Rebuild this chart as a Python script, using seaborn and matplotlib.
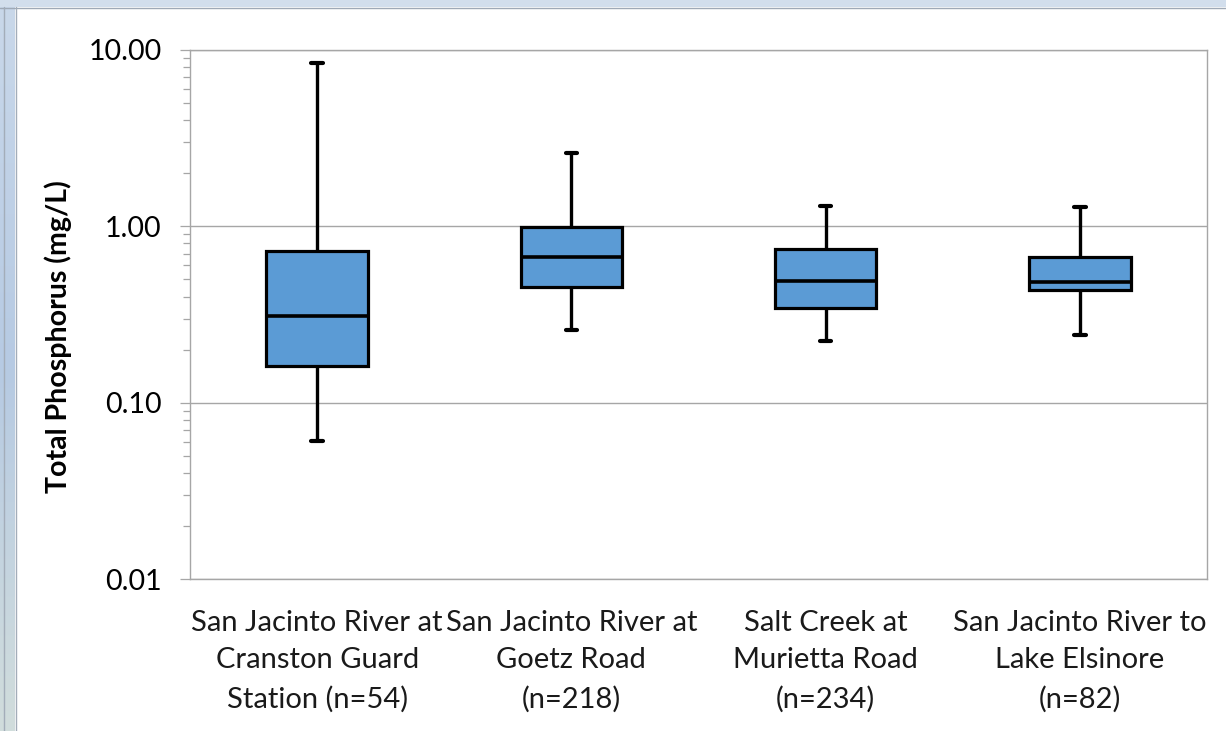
import numpy as np
import pandas as pd
import matplotlib
matplotlib.use("Agg")
import matplotlib.pyplot as plt
from matplotlib.patches import Rectangle
from matplotlib.lines import Line2D
from matplotlib.colors import LinearSegmentedColormap
from matplotlib.ticker import LogLocator, FixedLocator, FixedFormatter, NullFormatter
import seaborn as sns

# Monitoring sites (x categories)
sites = [
    "San Jacinto River at\nCranston Guard\nStation (n=54)",
    "San Jacinto River at\nGoetz Road\n(n=218)",
    "Salt Creek at\nMurietta Road\n(n=234)",
    "San Jacinto River to\nLake Elsinore\n(n=82)",
]

# Five-number summaries of total phosphorus (mg/L) per site
tp_min = [0.061, 0.258, 0.225, 0.241]
tp_q1 = [0.162, 0.451, 0.343, 0.436]
tp_median = [0.311, 0.673, 0.490, 0.485]
tp_q3 = [0.726, 0.995, 0.740, 0.667]
tp_max = [8.40, 2.60, 1.30, 1.29]

y_ticks = [0.01, 0.1, 1.0, 10.0]
y_tick_labels = ["0.01", "0.10", "1.00", "10.00"]

rows = []
for i, s in enumerate(sites):
    for v in (tp_min[i], tp_q1[i], tp_median[i], tp_q3[i], tp_max[i]):
        rows.append({"site": s, "tp": v})
df = pd.DataFrame(rows)

sns.set_theme(style="white")
plt.rcParams["font.family"] = ["Lato", "DejaVu Sans"]

W, H = 1226, 731
fig = plt.figure(figsize=(W / 100, H / 100), dpi=100)
fig.patch.set_facecolor("white")

ax = fig.add_axes([190 / W, 1 - 579 / H, (1207 - 190) / W, (579 - 50) / H])
ax.set_yscale("log")

grid_col = "#A6A6A6"
sns.boxplot(
    data=df, x="site", y="tp", ax=ax,
    order=sites, whis=(0, 100), width=0.40,
    color="#5B9BD5", saturation=1, linecolor="black", linewidth=2.2,
    boxprops=dict(linewidth=2.3, edgecolor="black", facecolor="#5B9BD5", zorder=3),
    medianprops=dict(linewidth=2.6, color="black", zorder=4),
    whiskerprops=dict(linewidth=2.4, color="black", zorder=3),
    capprops=dict(linewidth=3.0, color="black", zorder=3),
    capwidths=0.045,
    showfliers=False,
)

ax.set_ylim(0.01, 10)
ax.set_xlim(-0.5, len(sites) - 0.5)
ax.yaxis.set_major_locator(FixedLocator(y_ticks))
ax.yaxis.set_major_formatter(FixedFormatter(y_tick_labels))
ax.yaxis.set_minor_locator(LogLocator(base=10, subs=np.arange(2, 10)))
ax.yaxis.set_minor_formatter(NullFormatter())

ax.grid(axis="y", which="major", color=grid_col, linewidth=1.0, zorder=0)
ax.set_axisbelow(True)
for sp in ax.spines.values():
    sp.set_visible(True)
    sp.set_color(grid_col)
    sp.set_linewidth(1.0)

ax.tick_params(axis="y", which="major", left=True, length=7.5, width=0.9,
               color=grid_col, labelsize=20.5, labelcolor="black", pad=13)
ax.tick_params(axis="y", which="minor", left=True, length=5, width=0.9, color=grid_col)
ax.tick_params(axis="x", bottom=False, labelsize=21, labelcolor="black", pad=16)
for lbl in ax.get_xticklabels():
    lbl.set_linespacing(1.56)
    lbl.set_color("#1a1a1a")

ax.set_xlabel("")
ax.set_ylabel("")
fig.text(58 / W, 1 - 337 / H, "Total Phosphorus (mg/L)", rotation=90,
         ha="center", va="center", fontsize=20.5, fontweight="bold", color="black")

# Window frame strips along the top and left edges
fig.add_artist(Rectangle((0, 1 - 7 / H), 1, 7 / H, transform=fig.transFigure,
                         facecolor="#D2DEEC", edgecolor="none", zorder=5))
fig.add_artist(Line2D([0, 1], [1 - 7.5 / H, 1 - 7.5 / H], transform=fig.transFigure,
                      color="#9FA9B6", linewidth=1.0, zorder=6))
strip = fig.add_axes([0, 0, 15 / W, 1 - 7 / H])
cmap = LinearSegmentedColormap.from_list("frame", ["#D1DDDC", "#B6CAE3", "#C9D8EA"])
strip.imshow(np.linspace(0, 1, 256).reshape(-1, 1), aspect="auto", cmap=cmap,
             origin="lower", extent=[0, 1, 0, 1])
strip.set_axis_off()
fig.add_artist(Line2D([3.5 / W, 3.5 / W], [0, 1 - 7 / H], transform=fig.transFigure,
                      color="#A3ADB9", linewidth=1.0, zorder=6))
fig.add_artist(Line2D([15.5 / W, 15.5 / W], [0, 1 - 7 / H], transform=fig.transFigure,
                      color="#A3ADB9", linewidth=1.0, zorder=6))

fig.savefig("out.png", dpi=100, facecolor="white")
